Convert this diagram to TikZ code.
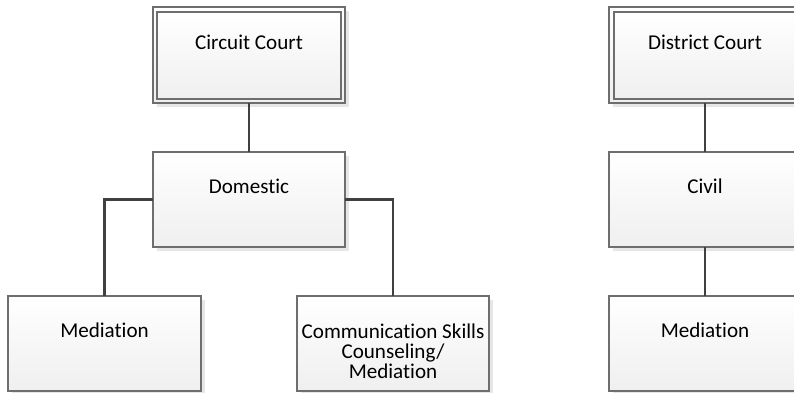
\documentclass[tikz,border=0pt]{standalone}
\usepackage{fontspec}
\setmainfont{Carlito}[Ligatures=NoCommon]
\usetikzlibrary{shadows}
\definecolor{boxline}{HTML}{6E6E6E}
\definecolor{boxbot}{HTML}{EFEFEF}
\definecolor{shadowc}{HTML}{E6E6E6}
\definecolor{connc}{HTML}{404040}
\newcommand{\lbfont}{\fontsize{21.1}{20}\selectfont}
\tikzset{
  boxc/.style={draw=boxline, line width=1.2pt, top color=white, bottom color=boxbot,
    minimum width=192pt, minimum height=95pt, inner sep=0pt, outer sep=0pt,
    general shadow={fill=shadowc, shadow xshift=4pt, shadow yshift=-4pt}},
  innerc/.style={draw=boxline, line width=1.2pt, top color=white, bottom color=boxbot},
  conn/.style={draw=connc, line width=2.3pt},
  lbl/.style={font=\lbfont, inner sep=0pt, anchor=base, align=center, text=black}
}
\begin{document}
\begin{tikzpicture}[x=1pt,y=-1pt]
\useasboundingbox (0,0) rectangle (794,392);
\clip (0,0) rectangle (794,392);
% left tree
\node[boxc, minimum height=96pt] (cc) at (249,55) {};
\draw[innerc] ([xshift=4pt,yshift=-5pt]cc.north west) rectangle ([xshift=-4pt,yshift=4pt]cc.south east);
\node[lbl] (cct) at ([yshift=-42pt]cc.north) {Circuit Court};
\node[boxc] (dom) at (249,199.5) {};
\node[lbl] (domt) at ([yshift=-41.5pt]dom.north) {Domestic};
\node[boxc, minimum width=193pt] (medl) at (104.5,343.5) {};
\node[lbl] (medlt) at ([yshift=-41.5pt]medl.north) {Mediation};
\node[boxc] (comm) at (393,343.5) {};
\node[lbl] (commt) at ([yshift=-82.5pt]comm.north) {Communication Skills\\Counseling/\\Mediation};
% right tree
\node[boxc, minimum height=96pt] (dc) at (705,55) {};
\draw[innerc] ([xshift=5pt,yshift=-5pt]dc.north west) rectangle ([xshift=-4pt,yshift=4pt]dc.south east);
\node[lbl] (dct) at ([yshift=-42pt]dc.north) {District Court};
\node[boxc] (civ) at (705,199.5) {};
\node[lbl] (civt) at ([yshift=-41.5pt]civ.north) {Civil};
\node[boxc] (medr) at (705,343.5) {};
\node[lbl] (medrt) at ([yshift=-41.5pt]medr.north) {Mediation};
% connectors
\draw[conn] (cc.south) -- (dom.north);
\draw[conn] (dom.west) -| (medl.north);
\draw[conn] (dom.east) -| (comm.north);
\draw[conn] (dc.south) -- (civ.north);
\draw[conn] (civ.south) -- (medr.north);
\end{tikzpicture}
\end{document}
